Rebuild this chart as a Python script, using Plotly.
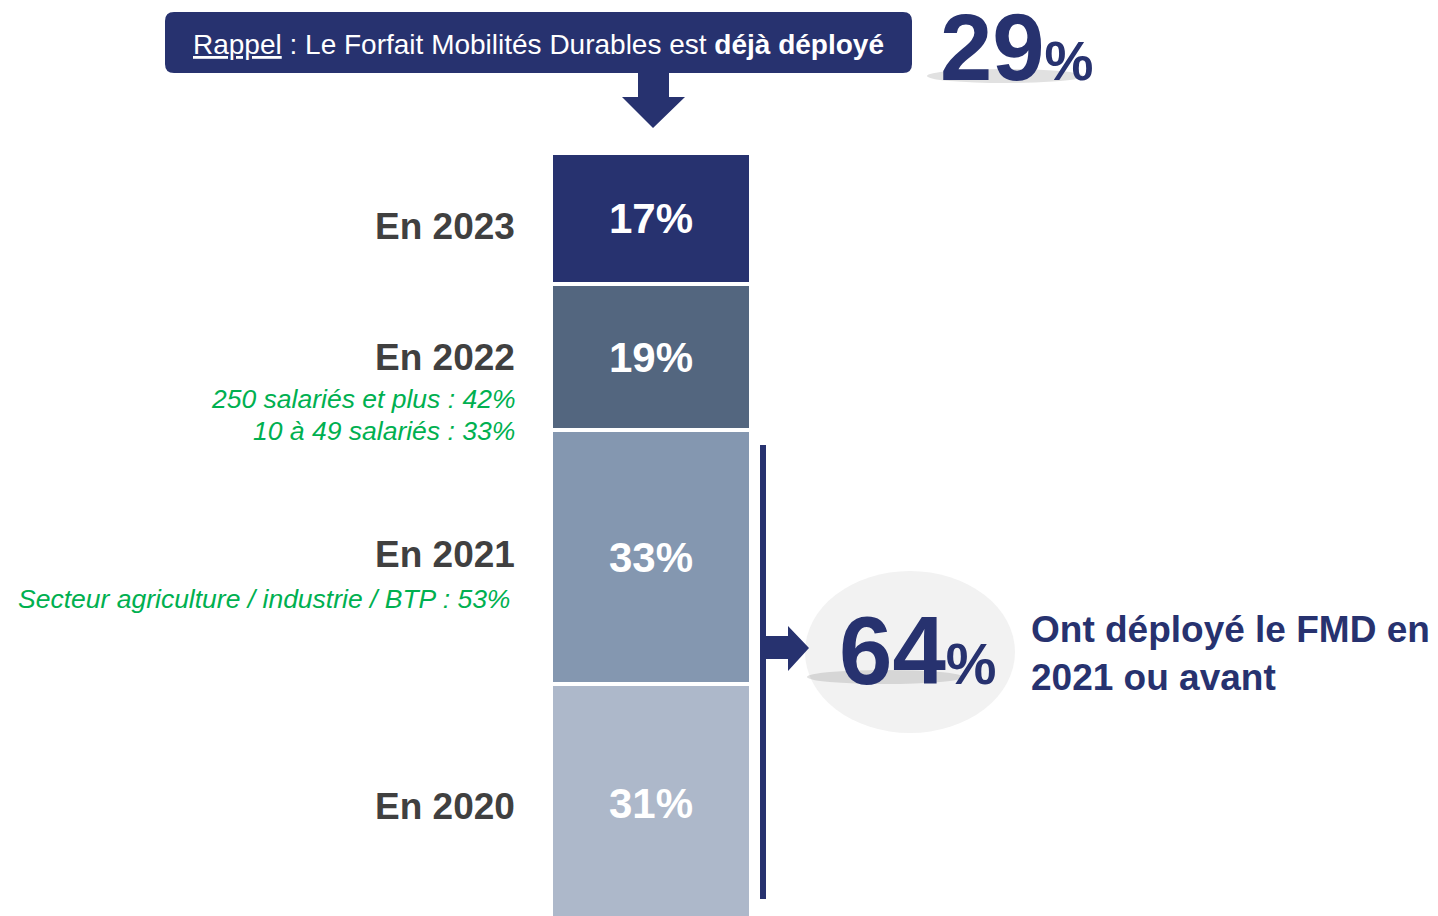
# %% ---- Requirements and constants
import plotly.graph_objects as go

W, H = 1438, 916
NAVY = "#27326f"
FONT = "Liberation Sans, Arial, sans-serif"

years = ["En 2020", "En 2021", "En 2022", "En 2023"]
shares = [31, 33, 19, 17]
bar_colors = ["#adb8ca", "#8497b0", "#53667f", "#27326f"]

notes_2022 = ["250 salariés et plus : 42%", "10 à 49 salariés : 33%"]
notes_2021 = ["Secteur agriculture / industrie / BTP : 53%"]

headline = 29
cumulative_2021 = 64


# %% ---- Helpers: pixel -> paper
def px(x):
    return x / W


def py(y):
    return 1 - y / H


def rounded_box(x0, y0, x1, y1, r):
    # path in paper coords, rounded corners of r pixels
    return (
        f"M {px(x0 + r)},{py(y0)} L {px(x1 - r)},{py(y0)} "
        f"Q {px(x1)},{py(y0)} {px(x1)},{py(y0 + r)} "
        f"L {px(x1)},{py(y1 - r)} Q {px(x1)},{py(y1)} {px(x1 - r)},{py(y1)} "
        f"L {px(x0 + r)},{py(y1)} Q {px(x0)},{py(y1)} {px(x0)},{py(y1 - r)} "
        f"L {px(x0)},{py(y0 + r)} Q {px(x0)},{py(y0)} {px(x0 + r)},{py(y0)} Z"
    )


def poly(points):
    return "M " + " L ".join(f"{px(x)},{py(y)}" for x, y in points) + " Z"


# %% ---- Figure
fig = go.Figure()
for name, val, col in zip(years, shares, bar_colors):
    fig.add_trace(go.Bar(
        x=[651], y=[val], width=[200], name=name,
        marker=dict(color=col, line=dict(color="white", width=4)),
        text=[f"<b>{val}%</b>"], textposition="inside",
        insidetextanchor="middle",
        textfont=dict(color="white", size=42, family=FONT),
        hoverinfo="skip",
    ))

shapes = []
annotations = []

# top reminder box + down arrow
shapes.append(dict(type="path", xref="paper", yref="paper",
                   path=rounded_box(165, 12, 912, 73, 9),
                   fillcolor=NAVY, line=dict(width=0)))
shapes.append(dict(type="path", xref="paper", yref="paper",
                   path=poly([(638, 72), (669, 72), (669, 97), (685, 97),
                              (653, 128), (622, 97), (638, 97)]),
                   fillcolor=NAVY, line=dict(width=0)))
annotations.append(dict(
    xref="paper", yref="paper", x=px(538), y=py(44), xanchor="center", yanchor="middle",
    text="<u>Rappel</u> : Le Forfait Mobilités Durables est <b>déjà déployé</b>",
    font=dict(color="white", size=28, family=FONT), showarrow=False))

# soft shadows under the big numbers
for cx, cy in [(1005, 76), (885, 677)]:
    shapes.append(dict(type="circle", xref="paper", yref="paper",
                       x0=px(cx - 78), x1=px(cx + 78), y0=py(cy - 7), y1=py(cy + 7),
                       fillcolor="rgba(90,90,90,0.18)", line=dict(width=0)))

annotations.append(dict(
    xref="paper", yref="paper", x=px(938), y=py(47), xanchor="left", yanchor="middle",
    text=f"<b>{headline}<span style='font-size:55px'>%</span></b>",
    font=dict(color=NAVY, size=94, family=FONT), showarrow=False))

# bracket for 2021 and before
shapes.append(dict(type="rect", xref="paper", yref="paper",
                   x0=px(760), x1=px(766), y0=py(445), y1=py(899),
                   fillcolor=NAVY, line=dict(width=0)))
shapes.append(dict(type="path", xref="paper", yref="paper",
                   path=poly([(764, 636), (788, 636), (788, 626), (809, 648),
                              (788, 671), (788, 659), (764, 659)]),
                   fillcolor=NAVY, line=dict(width=0)))
shapes.append(dict(type="circle", xref="paper", yref="paper", layer="below",
                   x0=px(805), x1=px(1015), y0=py(571), y1=py(733),
                   fillcolor="#f2f2f2", line=dict(width=0)))
annotations.append(dict(
    xref="paper", yref="paper", x=px(837), y=py(650), xanchor="left", yanchor="middle",
    text=f"<b>{cumulative_2021}<span style='font-size:57px'>%</span></b>",
    font=dict(color=NAVY, size=96, family=FONT), showarrow=False))
annotations.append(dict(
    xref="paper", yref="paper", x=px(1029), y=py(653), xanchor="left", yanchor="middle",
    align="left", text="<b>Ont déployé le FMD en<br>2021 ou avant</b>",
    font=dict(color=NAVY, size=37, family=FONT), showarrow=False))

# year labels at segment middles
label_nudge = [-3, 3, 0, -8]
base = 0
for name, val, dy in zip(years, shares, label_nudge):
    annotations.append(dict(
        x=517, y=base + val / 2, xanchor="right", yanchor="middle", yshift=dy,
        text=f"<b>{name}</b>", showarrow=False,
        font=dict(color="#404040", size=37, family=FONT)))
    base += val

# green notes
for i, t in enumerate(notes_2022):
    annotations.append(dict(
        xref="paper", yref="paper", x=px(517), y=py(399 + 32 * i),
        xanchor="right", yanchor="middle", text=f"<i>{t}</i>", showarrow=False,
        font=dict(color="#00b050", size=26.5, family=FONT)))
for t in notes_2021:
    annotations.append(dict(
        xref="paper", yref="paper", x=px(512), y=py(599),
        xanchor="right", yanchor="middle", text=f"<i>{t}</i>", showarrow=False,
        font=dict(color="#00b050", size=26.5, family=FONT)))

fig.update_layout(
    width=W, height=H, margin=dict(l=0, r=0, t=0, b=0),
    barmode="stack", bargap=0, showlegend=False,
    plot_bgcolor="white", paper_bgcolor="white",
    xaxis=dict(range=[0, W], visible=False, fixedrange=True),
    yaxis=dict(range=[0.91, 119.87], visible=False, fixedrange=True),
    shapes=shapes, annotations=annotations,
    uniformtext=dict(mode=False),
)

fig.write_html("out.html", config={"displayModeBar": False},
               post_script="document.body.style.margin='0';")
